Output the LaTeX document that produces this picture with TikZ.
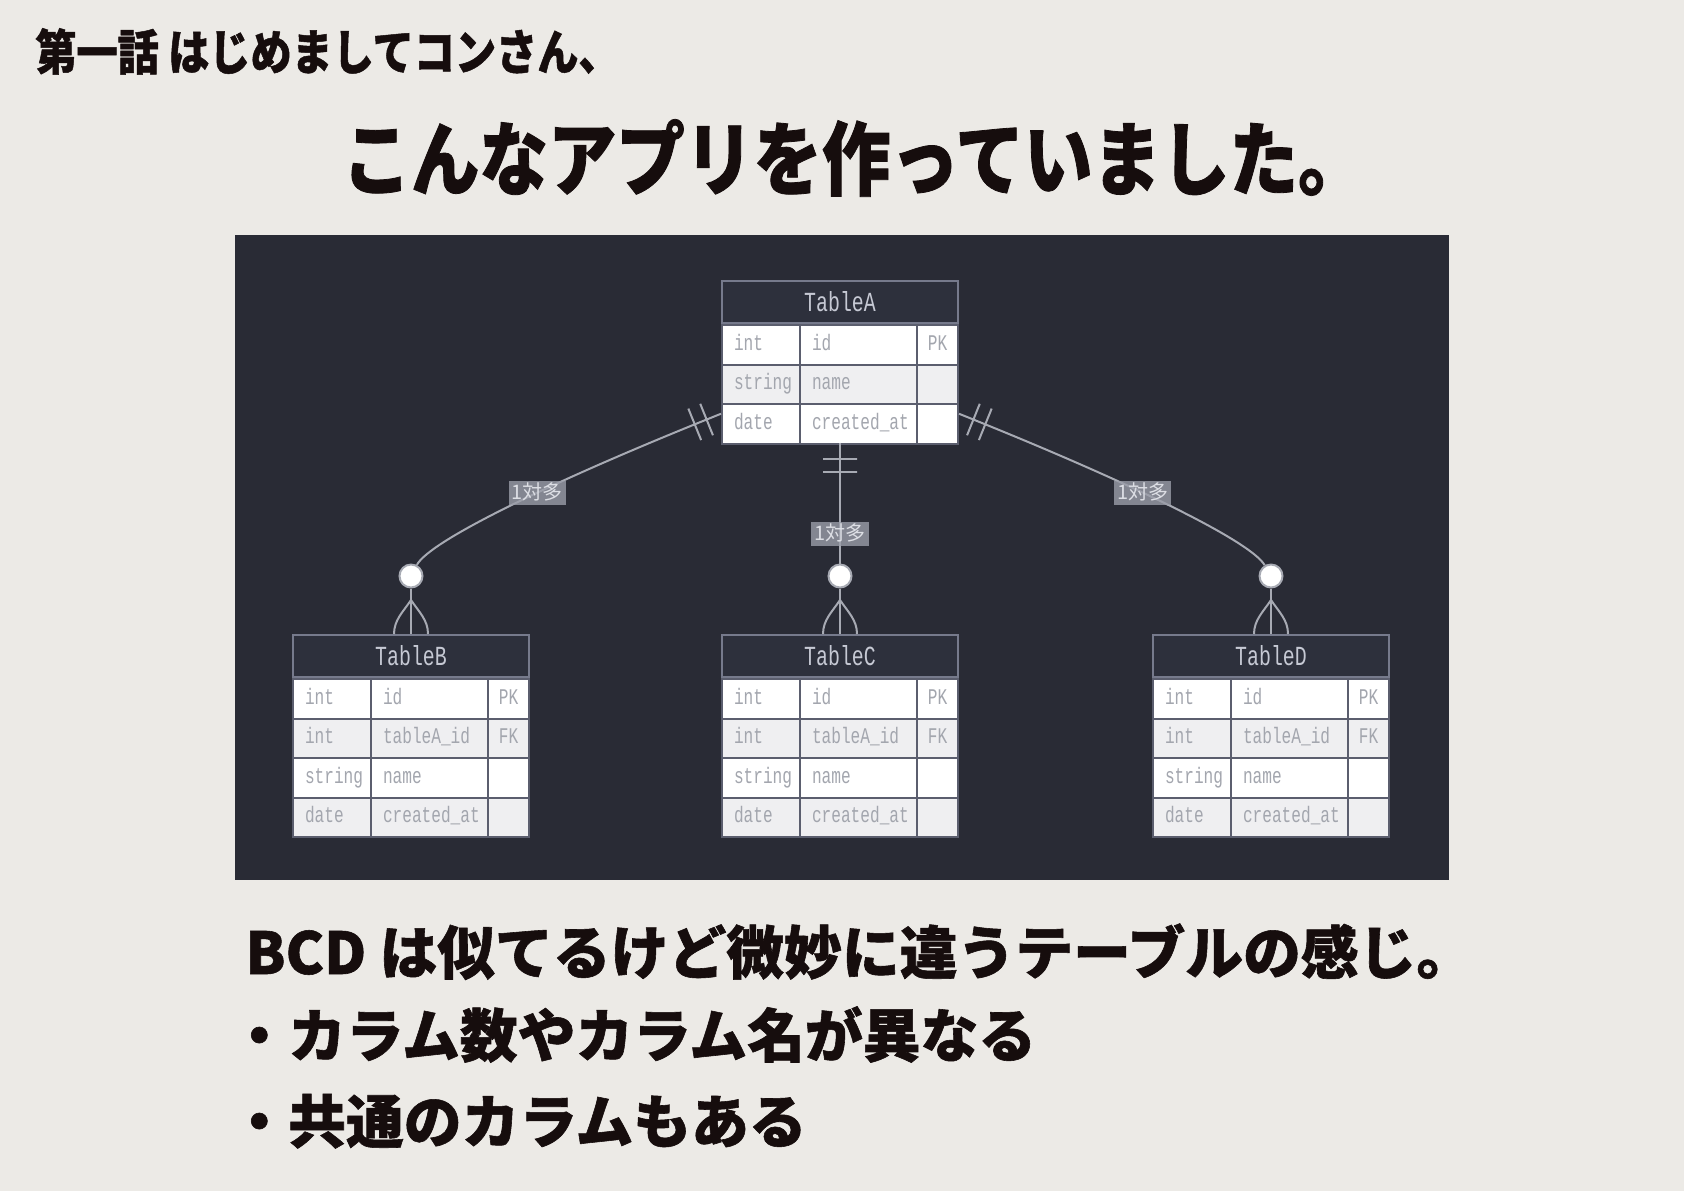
\documentclass[tikz,border=0pt]{standalone}
\usepackage{fontspec}
\usepackage{tikz}
\usetikzlibrary{calc,positioning}
\newfontfamily\jpfont{Noto Sans CJK JP}
\newfontfamily\jpheavy{Noto Sans CJK JP}[BoldFeatures={FakeBold=1}]
\newfontfamily\jpttl{Noto Sans CJK JP}[FakeStretch=0.85, BoldFeatures={FakeBold=1}]
\newfontfamily\ermono{Liberation Mono}[FakeStretch=0.72]

\definecolor{pagebg}{HTML}{ECEAE6}
\definecolor{panelbg}{HTML}{292B35}
\definecolor{headbg}{HTML}{2D303C}
\definecolor{headline}{HTML}{767A8C}
\definecolor{headtext}{HTML}{C6C9D4}
\definecolor{rowgray}{HTML}{EFEFF1}
\definecolor{cellline}{HTML}{5B5E6E}
\definecolor{celltext}{HTML}{A3A6AE}
\definecolor{relgray}{HTML}{A7AAB3}
\definecolor{labelbg}{HTML}{9A9DA8}
\definecolor{labeltext}{HTML}{DCDEE4}
\definecolor{inkblack}{HTML}{160D0D}

\tikzset{
  tabhead/.style={
    draw=headline, fill=headbg, line width=1pt,
    minimum width=118pt, minimum height=21pt, inner sep=0pt,
    text=headtext, font=\ermono\fontsize{13.8}{15}\selectfont,
    anchor=north west},
  cell/.style={
    draw=cellline, line width=1pt,
    minimum height=19.75pt, inner ysep=0pt, inner xsep=6pt,
    align=left, text height=7.5pt, text depth=2pt,
    text=celltext, font=\ermono\fontsize{11.2}{13}\selectfont,
    anchor=north west},
  typecell/.style={cell, text width=27pt},
  namecell/.style={cell, text width=46.5pt},
  keycell/.style={cell, inner xsep=1pt, text width=18.5pt, align=center},
  relline/.style={draw=relgray, line width=1pt},
  relmark/.style={sloped, draw=relgray, line width=1pt,
    minimum width=0pt, minimum height=17pt, inner sep=0pt},
  rellabel/.style={fill=labelbg, fill opacity=0.8, text opacity=1,
    text=labeltext, font=\jpfont\fontsize{10}{11}\selectfont,
    inner xsep=1.5pt, inner ysep=0pt, minimum height=12pt,
    text height=8pt, text depth=1.5pt},
  optcirc/.style={circle, draw=relgray, fill=white, line width=1pt,
    minimum size=11.5pt, inner sep=0pt},
  heading/.style={text=inkblack, inner sep=0pt, anchor=base west},
}

% table: name, x, y (top left), title, rows
\newcommand\ertable[5]{%
  \node[tabhead] (#1) at (#2,#3) {#4};
  \foreach \ty/\nm/\ky [count=\i] in {#5} {
    \ifodd\i \def\rowfill{white}\else\def\rowfill{rowgray}\fi
    \node[typecell, fill=\rowfill] (#1-\i-t) at ($(#1.south west)+(0,{39.5*(\i-1)})$) {\ty};
    \node[namecell, fill=\rowfill] (#1-\i-n) at ($(#1.south west)+(78,{39.5*(\i-1)})$) {\nm};
    \node[keycell, fill=\rowfill] (#1-\i-k) at ($(#1.south west)+(195,{39.5*(\i-1)})$) {\ky};
    \coordinate (#1-bot) at ($(#1.south)+(0,{39.5*\i})$);
  }
}

% many side: circle, line and crow's foot
\newcommand\crowfoot[2]{%
  \draw[relline] (#1.south) -- (#2.north);
  \draw[relline] ($(#2.north)+(0,-34)$) .. controls ($(#2.north)+(-8,-22)$) and ($(#2.north)+(-17,-14)$) .. ($(#2.north)+(-17,0)$);
  \draw[relline] ($(#2.north)+(0,-34)$) .. controls ($(#2.north)+(8,-22)$) and ($(#2.north)+(17,-14)$) .. ($(#2.north)+(17,0)$);
}

\begin{document}
\begin{tikzpicture}[x=0.5pt, y=-0.5pt]

    \useasboundingbox (0,0) rectangle (1684,1191);
    \fill[pagebg] (0,0) rectangle (1684,1191);
    \fill[panelbg] (235,235) rectangle (1449,880);

    \node[heading, font=\jpttl\bfseries\fontsize{24.2}{28}\selectfont] (ttl) at (35,70) {第一話 はじめましてコンさん、};
    \node[heading, font=\jpttl\bfseries\fontsize{40.3}{44}\selectfont] (sub) at (342,189) {こんなアプリを作っていました。};

    \ertable{tA}{721}{280}{TableA}{int/id/PK, string/name/{}, date/created\_at/{}}
    \ertable{tB}{292}{634}{TableB}{int/id/PK, int/tableA\_id/FK, string/name/{}, date/created\_at/{}}
    \ertable{tC}{721}{634}{TableC}{int/id/PK, int/tableA\_id/FK, string/name/{}, date/created\_at/{}}
    \ertable{tD}{1152}{634}{TableD}{int/id/PK, int/tableA\_id/FK, string/name/{}, date/created\_at/{}}

    \foreach \t in {B,C,D} {
        \node[optcirc, above=22.75pt of t\t.north] (c\t) {};
        \crowfoot{c\t}{t\t}
    }

    \draw[relline] ($(tA-3-t.west)+(0,-10)$) .. controls (560,478) and (430,540) .. (cB)
        node[relmark, pos=0.03] {} node[relmark, pos=0.055] {}
        node[rellabel, pos=0.43] (lAB) {1対多};
    \draw[relline] (tA-bot) -- (cC)
        node[relmark, pos=0.137] {} node[relmark, pos=0.24] {}
        node[rellabel, pos=0.76] (lAC) {1対多};
    \draw[relline] ($(tA-3-k.east)+(0,-10)$) .. controls (1120,478) and (1250,540) .. (cD)
        node[relmark, pos=0.03] {} node[relmark, pos=0.055] {}
        node[rellabel, pos=0.43] (lAD) {1対多};

    \node[heading, font=\jpheavy\bfseries\fontsize{28.9}{34}\selectfont] (nt1) at (245,974) {BCD は似てるけど微妙に違うテーブルの感じ。};
    \node[heading, font=\jpheavy\bfseries\fontsize{28.9}{34}\selectfont] (nt2) at (230,1057) {・カラム数やカラム名が異なる};
    \node[heading, font=\jpheavy\bfseries\fontsize{28.9}{34}\selectfont] (nt3) at (230,1143) {・共通のカラムもある};

\end{tikzpicture}
\end{document}
